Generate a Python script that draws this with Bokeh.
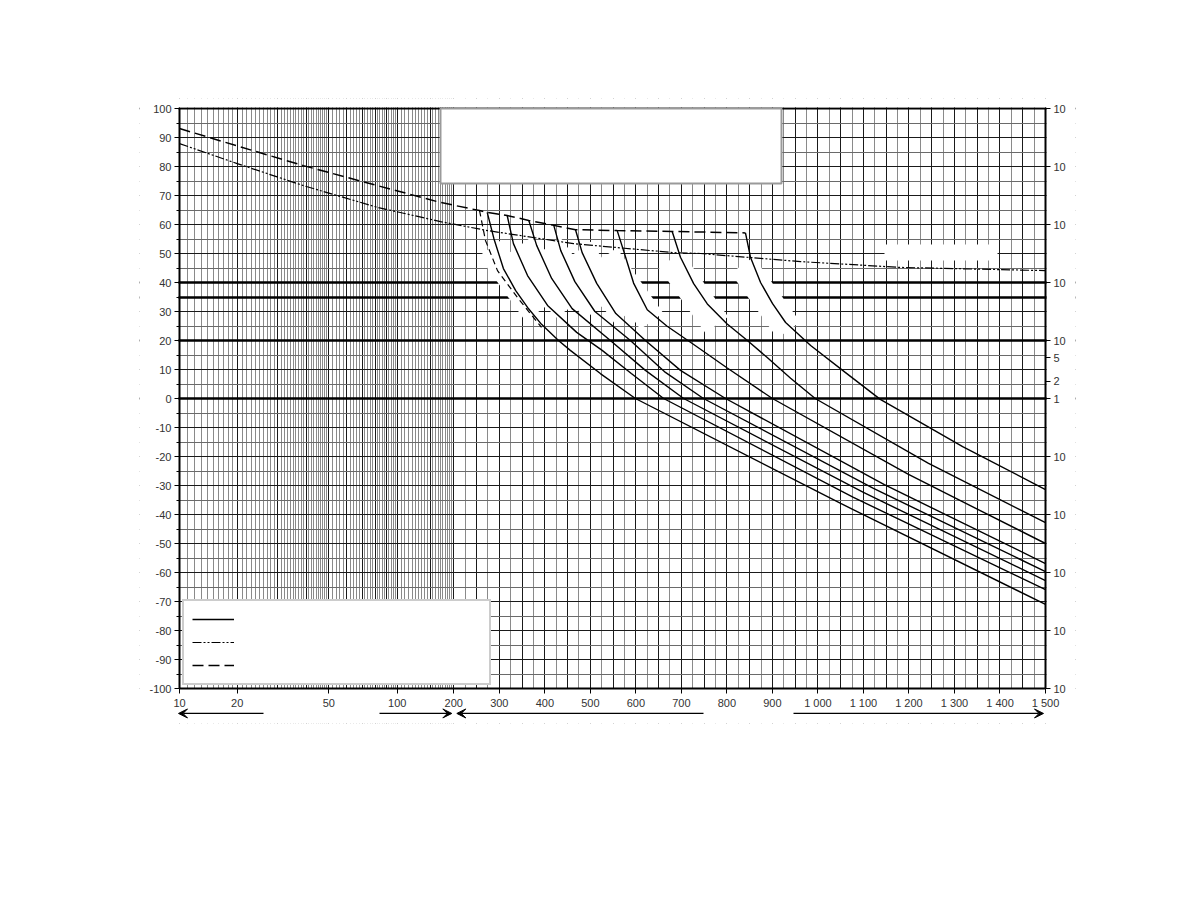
import numpy as np
from bokeh.plotting import figure
from bokeh.models import (Range1d, LinearAxis, FixedTicker, Grid, Legend, LegendItem,
                          Arrow, VeeHead, BoxAnnotation)
from bokeh.core.properties import value
from bokeh.embed import file_html
from bokeh.resources import INLINE

# ---------------- data ----------------
x_tick_values = [10, 20, 50, 100, 200, 300, 400, 500, 600, 700, 800, 900,
                 1000, 1100, 1200, 1300, 1400, 1500]
x_tick_labels = ["10", "20", "50", "100", "200", "300", "400", "500", "600", "700",
                 "800", "900", "1 000", "1 100", "1 200", "1 300", "1 400", "1 500"]
y_left_ticks = list(range(-100, 101, 10))
y_left_labels = [str(v) for v in y_left_ticks]
y_right_ticks = [-100, -80, -60, -40, -20, 0, 20, 40, 60, 80, 100]
y_right_labels = ["10", "10", "10", "10", "10", "1", "10", "10", "10", "10", "10"]
y_right_small_ticks = [6.02, 13.98]
y_right_small_labels = ["2", "5"]

dashdot_x = [10, 20, 38.8, 81.9, 169.9, 274, 463, 683, 742, 962, 1181, 1500]
dashdot_y = [87.9, 81.0, 73.4, 65.9, 61.0, 57.9, 53.4, 50.3, 50.0, 47.2, 45.2, 44.1]

dashed_x = [10, 20, 38.8, 81.9, 169.9, 256.5, 273.4, 317.3, 364.8, 419.7, 467.4, 559, 679.8, 840.8]
dashed_y = [93.1, 87.1, 80.3, 73.4, 67.6, 64.8, 64.2, 63.1, 61.4, 59.7, 58.2, 57.9, 57.6, 57.1]

branch_x = [256.5, 269.6, 296, 340, 392.7]
branch_y = [64.8, 54.5, 44.1, 34.8, 24.5]

c1_x = [273.4, 288, 309, 336, 362, 391, 430, 456, 522, 599, 1050, 1500]
c1_y = [64.2, 55.2, 44.8, 37.2, 31.4, 25.9, 20.0, 16.6, 8.6, 0.0, -36.2, -71.0]
c2_x = [317.3, 331, 362, 406, 470, 526, 590, 661, 1078, 1500]
c2_y = [63.1, 53.4, 42.4, 32.1, 22.8, 16.6, 8.6, 0.0, -34.1, -65.9]
c3_x = [364.8, 382, 415, 460, 544, 621, 705, 1100, 1500]
c3_y = [61.4, 52.8, 41.4, 31.0, 20.0, 9.7, 0.0, -32.4, -62.8]
c4_x = [419.7, 435, 466, 510, 588, 665, 748.5, 1122, 1500]
c4_y = [59.7, 51.0, 40.3, 30.0, 20.0, 9.0, 0.0, -31.0, -59.7]
c5_x = [467.4, 482, 514, 556, 621, 698, 797, 1146, 1500]
c5_y = [58.2, 50.3, 39.7, 29.3, 20.0, 9.7, 0.0, -29.7, -56.9]
c6_x = [559, 573, 595, 625, 668, 720, 800, 900, 1199, 1500]
c6_y = [57.9, 51.0, 39.8, 30.6, 25.0, 19.4, 10.6, 0.0, -26.2, -50.0]
c7_x = [679.8, 698, 727, 757, 800, 845, 888, 940, 994, 1243, 1500]
c7_y = [57.6, 48.7, 39.6, 32.6, 25.8, 20.0, 14.2, 7.0, 0.0, -22.4, -42.8]
c8_x = [840.8, 852, 874, 900, 929, 984, 1060, 1137, 1318, 1500]
c8_y = [57.1, 48.6, 40.0, 32.8, 26.2, 18.3, 9.0, -0.3, -16.6, -31.4]

# ---------------- x scale (log 10..200, linear 200..1500) ----------------
ANCH_X = [10, 20, 50, 100, 200]
ANCH_U = [0.0, 57.7, 149.3, 217.7, 274.3]
CHART_W = 866
LIN_SLOPE = (CHART_W - ANCH_U[-1]) / 1300.0


def to_u(v):
    v = np.asarray(v, dtype=float)
    logpart = np.interp(np.log10(v), np.log10(ANCH_X), ANCH_U)
    linpart = ANCH_U[-1] + (v - 200.0) * LIN_SLOPE
    return np.where(v <= 200, logpart, linpart)


FONT = "Liberation Sans"
PX = 2.9                     # pixels per y unit
M_L, M_R, M_T, M_B = 40, 30, 10, 35   # frame room around the chart box (px)
Y_MIN = -100 - M_B / PX
Y_MAX = 100 + M_T / PX

p = figure(x_range=Range1d(-M_L, CHART_W + M_R), y_range=Range1d(Y_MIN, Y_MAX),
           frame_width=CHART_W + M_L + M_R, frame_height=int(round(200 * PX)) + M_T + M_B,
           min_border_left=179 - M_L, min_border_top=108 - M_T, min_border_right=20,
           min_border_bottom=20, x_axis_type=None, y_axis_type=None,
           output_backend="svg", toolbar_location=None)
p.xgrid.visible = False
p.ygrid.visible = False
p.outline_line_color = None
p.background_fill_color = "white"
p.border_fill_color = "white"

# ---------------- grid ----------------
dark_v = [10, 20, 30, 40, 50, 60, 70, 80, 90, 100, 150, 200] + list(range(250, 1501, 50))
grey_v = (list(range(11, 20)) + [v for v in range(21, 50) if v % 10]
          + [v for v in range(52, 100, 2) if v % 10]
          + [v for v in range(105, 200, 5) if v % 50]
          + list(range(225, 1500, 50)))
p.add_layout(Grid(dimension=0, ticker=FixedTicker(ticks=list(to_u(dark_v)),
                                                  minor_ticks=list(to_u(grey_v))),
                  grid_line_color="#1a1a1a", grid_line_width=1,
                  minor_grid_line_color="#8a8a8a", minor_grid_line_width=1))
p.add_layout(Grid(dimension=1, ticker=FixedTicker(ticks=list(range(-100, 101, 10)),
                                                  minor_ticks=list(range(-95, 100, 10))),
                  grid_line_color="#1a1a1a", grid_line_width=1,
                  minor_grid_line_color="#6a6a6a", minor_grid_line_width=1))
p.add_layout(Grid(dimension=1, ticker=FixedTicker(ticks=[40, 35, 20, 0]),
                  grid_line_color="black", grid_line_width=2.6))
p.add_layout(Grid(dimension=1, ticker=FixedTicker(ticks=[100]),
                  grid_line_color="black", grid_line_width=2))
# blank margins around the chart box (hold axis labels and range arrows)
for kw in (dict(top=-100), dict(bottom=100 + 1.2 / PX), dict(right=-1), dict(left=CHART_W + 1)):
    p.add_layout(BoxAnnotation(fill_color="white", fill_alpha=1.0, line_color=None,
                               level="underlay", **kw))

# ---------------- white masks (removed labels) ----------------
p.quad(left=[261], right=[602], bottom=[74.1], top=[100], fill_color="white",
       line_color="#9a9a9a", line_width=2)
p.quad(left=[705], right=[818], bottom=[47.6], top=[53.1], fill_color="white",
       line_color=None)
p.rect(x=[334, 364, 393, 423, 449, 514, 586], y=[40.7, 41.7, 41.4, 40.0, 37.9, 36.6, 34.8],
       width=80, height=28, width_units="screen", height_units="screen",
       angle=-0.95, fill_color="white", line_color=None)

# ---------------- curves ----------------
LW = 1.4
r_dd = p.line(to_u(dashdot_x), dashdot_y, line_color="black", line_width=1.2,
              line_dash="9 2 2 2 2 2")
r_dash = p.line(to_u(dashed_x), dashed_y, line_color="black", line_width=1.5,
                line_dash="11 5")
p.line(to_u(branch_x), branch_y, line_color="black", line_width=1.2, line_dash="6 4")
solid = []
for cx, cy in [(c1_x, c1_y), (c2_x, c2_y), (c3_x, c3_y), (c4_x, c4_y),
               (c5_x, c5_y), (c6_x, c6_y), (c7_x, c7_y), (c8_x, c8_y)]:
    solid.append(p.line(to_u(cx), cy, line_color="black", line_width=LW))

# ---------------- legend (texts removed in source) ----------------
legend = Legend(items=[LegendItem(label=value(" "), renderers=[solid[0]]),
                       LegendItem(label=value(" "), renderers=[r_dd]),
                       LegendItem(label=value(" "), renderers=[r_dash])],
                location=(M_L + 3, M_B + 3), glyph_width=42, glyph_height=20,
                spacing=3, padding=8, label_width=242, label_standoff=5,
                border_line_color="#9a9a9a", border_line_width=2,
                background_fill_color="white", background_fill_alpha=1.0,
                margin=0)
p.add_layout(legend)

# ---------------- axes ----------------
xt = [float(u) for u in to_u(x_tick_values)]
xaxis = LinearAxis(ticker=FixedTicker(ticks=xt), fixed_location=-100,
                   bounds=(0, CHART_W),
                   major_label_overrides={u: lab for u, lab in zip(xt, x_tick_labels)})
yl = LinearAxis(ticker=FixedTicker(ticks=y_left_ticks, minor_ticks=list(range(-95, 100, 10))),
                fixed_location=0, bounds=(-100, 100),
                major_label_overrides={t: lab for t, lab in zip(y_left_ticks, y_left_labels)})
yr_ticks = y_right_ticks + y_right_small_ticks
yr = LinearAxis(ticker=FixedTicker(ticks=yr_ticks), fixed_location=CHART_W,
                bounds=(-100, 100),
                major_label_overrides={t: lab for t, lab in
                                       zip(yr_ticks, y_right_labels + y_right_small_labels)})
for ax in (xaxis, yl, yr):
    ax.axis_line_color = "black"
    ax.axis_line_width = 2
    ax.major_tick_line_color = "black"
    ax.major_tick_line_width = 1
    ax.major_tick_in = 0
    ax.major_tick_out = 5
    ax.minor_tick_in = 0
    ax.minor_tick_out = 3
    ax.minor_tick_line_color = "black"
    ax.major_label_text_font = FONT
    ax.major_label_text_font_size = "11px"
    ax.major_label_text_color = "#333333"
    ax.major_label_standoff = 3
p.add_layout(xaxis, "below")
p.add_layout(yl, "left")
p.add_layout(yr, "right")

# ---------------- range arrows under the axis ----------------
ya = -108.6
u10, u200, u1500 = [float(v) for v in to_u([10, 200, 1500])]
for xs, xe in [(84.0, u10 - 1), (200.0, u200 - 2), (524.0, u200 + 3), (614.0, u1500 - 2)]:
    p.add_layout(Arrow(x_start=xs, y_start=ya, x_end=xe, y_end=ya, line_width=1.2,
                       line_color="black",
                       end=VeeHead(size=9, fill_color="black", line_color="black")))

open("out.html", "w").write(file_html(p, INLINE))
